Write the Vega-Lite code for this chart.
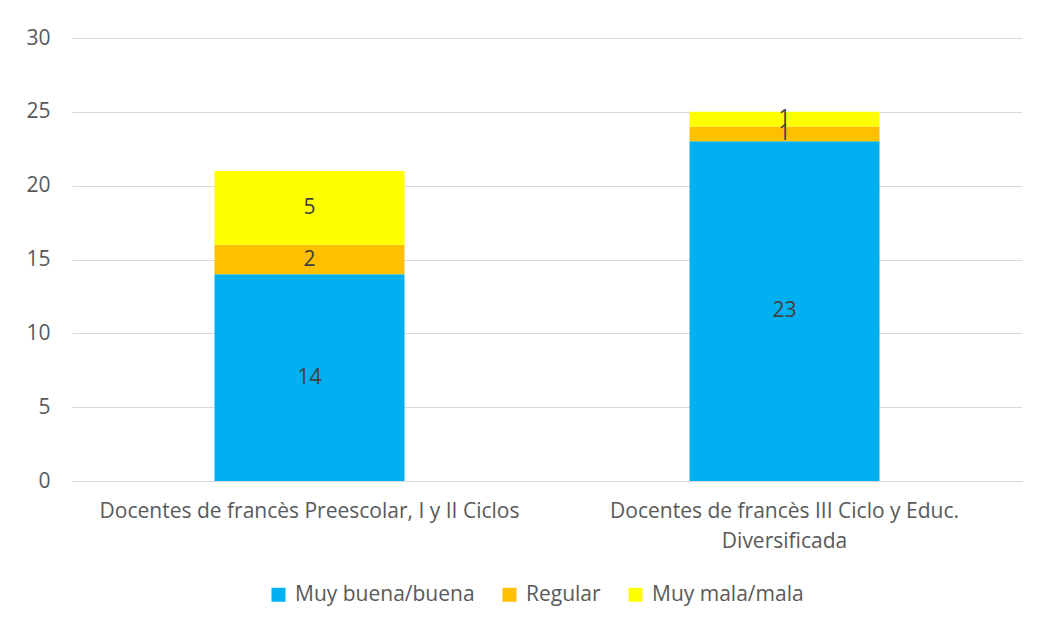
{
  "$schema": "https://vega.github.io/schema/vega-lite/v6.json",
  "width": 950,
  "height": 443,
  "autosize": {"type": "none"},
  "padding": {"left": 72, "top": 38, "right": 15, "bottom": 147},
  "background": "white",
  "config": {
    "view": {"stroke": null},
    "font": "Open Sans"
  },
  "data": {
    "values": [
      {"grupo": "Docentes de francès Preescolar, I y II Ciclos", "valoracion": "Muy buena/buena", "orden": 1, "cantidad": 14},
      {"grupo": "Docentes de francès Preescolar, I y II Ciclos", "valoracion": "Regular", "orden": 2, "cantidad": 2},
      {"grupo": "Docentes de francès Preescolar, I y II Ciclos", "valoracion": "Muy mala/mala", "orden": 3, "cantidad": 5},
      {"grupo": "Docentes de francès III Ciclo y Educ. Diversificada", "valoracion": "Muy buena/buena", "orden": 1, "cantidad": 23},
      {"grupo": "Docentes de francès III Ciclo y Educ. Diversificada", "valoracion": "Regular", "orden": 2, "cantidad": 1},
      {"grupo": "Docentes de francès III Ciclo y Educ. Diversificada", "valoracion": "Muy mala/mala", "orden": 3, "cantidad": 1}
    ]
  },
  "encoding": {
    "x": {
      "field": "grupo",
      "type": "nominal",
      "sort": null,
      "title": null,
      "scale": {"paddingInner": 0.6, "paddingOuter": 0.3},
      "axis": {
        "labelAngle": 0,
        "labelExpr": "split(replace(datum.label, 'Educ. ', 'Educ.|'), '|')",
        "labelFontSize": 21,
        "labelColor": "#595959",
        "labelPadding": 19,
        "labelLineHeight": 30,
        "labelLimit": 600,
        "ticks": false,
        "domainColor": "#d9d9d9",
        "domainWidth": 1,
        "grid": false
      }
    },
    "y": {
      "field": "cantidad",
      "type": "quantitative",
      "stack": "zero",
      "title": null,
      "scale": {"domain": [0, 30], "nice": false},
      "axis": {
        "values": [0, 5, 10, 15, 20, 25, 30],
        "labelFontSize": 21,
        "labelColor": "#595959",
        "labelPadding": 22,
        "ticks": false,
        "domain": false,
        "gridColor": "#d9d9d9",
        "gridWidth": 1
      }
    },
    "order": {"field": "orden", "type": "quantitative"}
  },
  "layer": [
    {
      "mark": {"type": "bar"},
      "encoding": {
        "color": {
          "field": "valoracion",
          "type": "nominal",
          "sort": ["Muy buena/buena", "Regular", "Muy mala/mala"],
          "scale": {
            "domain": ["Muy buena/buena", "Regular", "Muy mala/mala"],
            "range": ["#00B0F0", "#FFC000", "#FFFF00"]
          },
          "legend": {
            "title": null,
            "orient": "none",
            "direction": "horizontal",
            "legendX": 196,
            "legendY": 546,
            "symbolType": "square",
            "symbolSize": 196,
            "symbolStrokeWidth": 0,
            "labelFontSize": 21,
            "labelLimit": 400,
            "labelColor": "#595959",
            "labelOffset": 6,
            "columnPadding": 24
          }
        }
      }
    },
    {
      "mark": {"type": "text", "fontSize": 21, "color": "#404040", "baseline": "middle"},
      "encoding": {
        "y": {"field": "cantidad", "type": "quantitative", "stack": "zero", "bandPosition": 0.5},
        "text": {"field": "cantidad", "type": "quantitative"}
      }
    }
  ]
}
